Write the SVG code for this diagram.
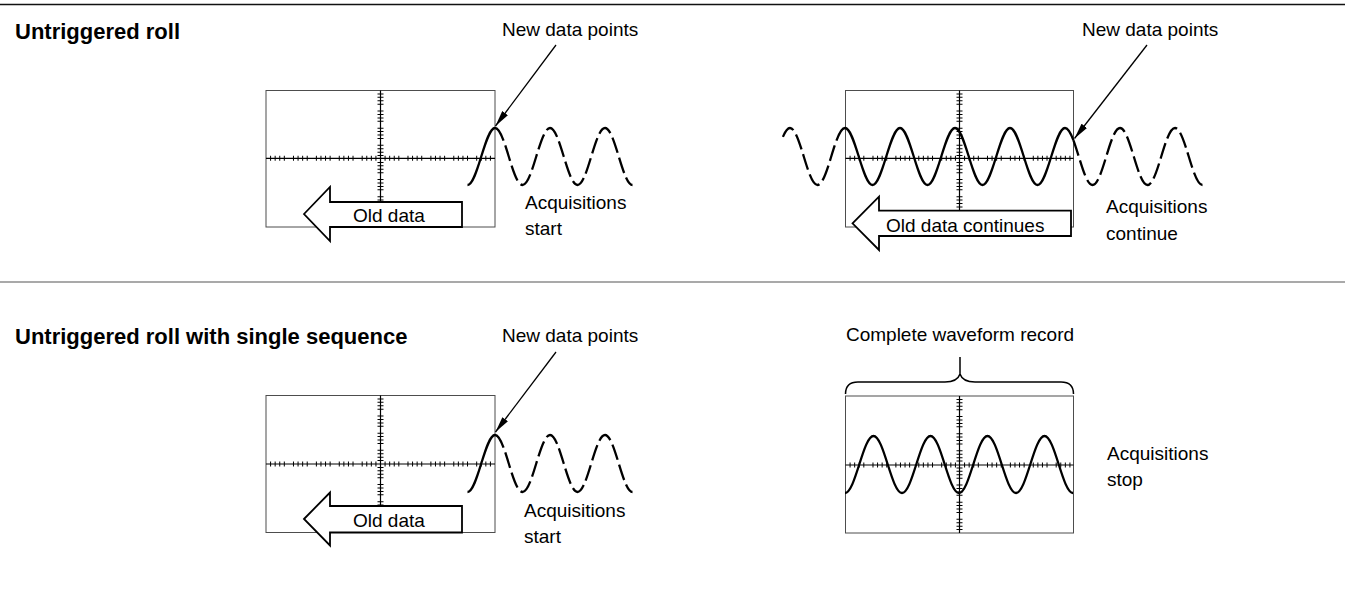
<svg xmlns="http://www.w3.org/2000/svg" width="1345" height="589" viewBox="0 0 1345 589">
<style>
.frame{fill:none;stroke:#4d4d4d;stroke-width:1}
.axis{stroke:#000;stroke-width:1.2}
.hticks{stroke:#000;stroke-width:5;stroke-dasharray:0 4.08 1 3.58 1 3.58 1 3.58 1 4.08}
.vticks{stroke:#000;stroke-width:6;stroke-dasharray:0 2.925 1 2.425 1 2.425 1 2.425 1 2.925}
.wave{fill:none;stroke:#000;stroke-width:2.3}
.dash{stroke-dasharray:16 5}
.big{fill:#fff;stroke:#000;stroke-width:1.8}
.ptr{stroke:#000;stroke-width:1.3;fill:none;marker-end:url(#ah)}
.lbl{font-family:"Liberation Sans",Arial,sans-serif;font-size:19px;fill:#000}
.ttl{font-family:"Liberation Sans",Arial,sans-serif;font-size:22px;font-weight:bold;fill:#000}
.rule{stroke-width:1.5}
</style>
<defs>
<marker id="ah" viewBox="0 0 16 7" refX="16" refY="3.5" markerWidth="16" markerHeight="7" orient="auto" markerUnits="userSpaceOnUse">
<path d="M0,0 L16,3.5 L0,7 z" fill="#000"/>
</marker>
</defs>
<rect width="1345" height="589" fill="#fff"/>
<g id="rules">
<line x1="0" y1="4.5" x2="1345" y2="4.5" stroke="#111" class="rule"/>
<line x1="0" y1="282" x2="1345" y2="282" stroke="#555" stroke-width="1.2"/>
</g>
<g id="titles">
<text class="ttl" x="15" y="39">Untriggered roll</text>
<text class="ttl" x="15" y="344">Untriggered roll with single sequence</text>
</g>

<g id="panel1">
<rect class="frame" x="266" y="90.5" width="229" height="136.5"/>
<line class="axis" x1="266" y1="158.3" x2="495" y2="158.3"/>
<line class="hticks" x1="266" y1="158.3" x2="495" y2="158.3"/>
<line class="axis" x1="380.5" y1="90.5" x2="380.5" y2="227"/>
<line class="vticks" x1="380.5" y1="90.5" x2="380.5" y2="227"/>
<path class="wave" d="M467.5,185 C477.5,185 485,128 495,128"/>
<path class="wave dash" d="M495,128 C505,128 512.5,185 522.5,185 C532.5,185 540,128 550,128 C560,128 567.5,185 577.5,185 C587.5,185 595,128 605,128 C615,128 622.5,185 632.5,185"/>
<polygon class="big" points="304,214 330,187 330,202 462,202 462,227 330,227 330,241"/>
<text class="lbl" x="353" y="222">Old data</text>
<text class="lbl" x="502" y="36">New data points</text>
<text class="lbl" x="525" y="209">Acquisitions</text>
<text class="lbl" x="525" y="235">start</text>
</g>

<g id="panel2">
<rect class="frame" x="845.5" y="90.5" width="228" height="136.5"/>
<line class="axis" x1="845.5" y1="158.3" x2="1073.5" y2="158.3"/>
<line class="hticks" x1="845.5" y1="158.3" x2="1073.5" y2="158.3"/>
<line class="axis" x1="959.5" y1="90.5" x2="959.5" y2="227"/>
<line class="vticks" x1="959.5" y1="90.5" x2="959.5" y2="227"/>
<path class="wave dash" d="M782.9,136.9 C785.16,131.56 787.5,128 790,128 C800,128 807.5,185 817.5,185 C827.5,185 835,128 845,128"/>
<path class="wave" d="M845,128 C855,128 862.5,185 872.5,185 C882.5,185 890,128 900,128 C910,128 917.5,185 927.5,185 C937.5,185 945,128 955,128 C965,128 972.5,185 982.5,185 C992.5,185 1000,128 1010,128 C1020,128 1027.5,185 1037.5,185 C1047.5,185 1055,128 1065,128 C1068,128 1070.78,133.13 1073.46,140.31"/>
<path class="wave dash" d="M1073.46,140.31 C1079.73,157.07 1085.5,185 1092.5,185 C1102.5,185 1110,128 1120,128 C1130,128 1137.5,185 1147.5,185 C1157.5,185 1165,128 1175,128 C1185,128 1192.5,185 1202.5,185"/>
<polygon class="big" points="852.5,223.3 879,196.7 879,210.7 1071,210.7 1071,236 879,236 879,250"/>
<text class="lbl" x="886" y="232">Old data continues</text>
<text class="lbl" x="1082" y="36">New data points</text>
<text class="lbl" x="1106" y="213">Acquisitions</text>
<text class="lbl" x="1106" y="240">continue</text>
</g>

<g id="panel3">
<rect class="frame" x="266" y="395.5" width="229" height="137"/>
<line class="axis" x1="266" y1="464" x2="495" y2="464"/>
<line class="hticks" x1="266" y1="464" x2="495" y2="464"/>
<line class="axis" x1="380.5" y1="395.5" x2="380.5" y2="532.5"/>
<line class="vticks" x1="380.5" y1="395.5" x2="380.5" y2="532.5"/>
<path class="wave" d="M467.5,492 C477.5,492 485,435 495,435"/>
<path class="wave dash" d="M495,435 C505,435 512.5,492 522.5,492 C532.5,492 540,435 550,435 C560,435 567.5,492 577.5,492 C587.5,492 595,435 605,435 C615,435 622.5,492 632.5,492"/>
<polygon class="big" points="304,519 330,492.5 330,506 462,506 462,532.5 330,532.5 330,545.5"/>
<text class="lbl" x="353" y="527">Old data</text>
<text class="lbl" x="502" y="342">New data points</text>
<text class="lbl" x="524" y="517">Acquisitions</text>
<text class="lbl" x="524" y="543">start</text>
</g>

<g id="panel4">
<rect class="frame" x="845.5" y="396" width="228" height="137"/>
<line class="axis" x1="845.5" y1="465" x2="1073.5" y2="465"/>
<line class="hticks" x1="845.5" y1="465" x2="1073.5" y2="465"/>
<line class="axis" x1="959.5" y1="396" x2="959.5" y2="533"/>
<line class="vticks" x1="959.5" y1="396" x2="959.5" y2="533"/>
<path class="wave" d="M845,493 C855.36,493 863.14,436 873.5,436 C883.86,436 891.64,493 902,493 C912.36,493 920.14,436 930.5,436 C940.86,436 948.64,493 959,493 C969.36,493 977.14,436 987.5,436 C997.86,436 1005.64,493 1016,493 C1026.36,493 1034.14,436 1044.5,436 C1054.86,436 1062.64,493 1073,493"/>
<path fill="none" stroke="#000" stroke-width="1.5" d="M845.5,394 C845.5,386 849,382 858,382 L945,382 C953,382 958,380 960,374 C962,380 967,382 975,382 L1061,382 C1070,382 1073.5,386 1073.5,394 M960,374 L960,357"/>
<text class="lbl" x="960" y="341" text-anchor="middle">Complete waveform record</text>
<text class="lbl" x="1107" y="460">Acquisitions</text>
<text class="lbl" x="1107" y="486">stop</text>
</g>

<g id="connectors">
<path class="ptr" d="M556,45 L495.5,126"/>
<path class="ptr" d="M1147,45 L1074.5,138.5"/>
<path class="ptr" d="M556,352 L495.5,432"/>
</g>
</svg>
